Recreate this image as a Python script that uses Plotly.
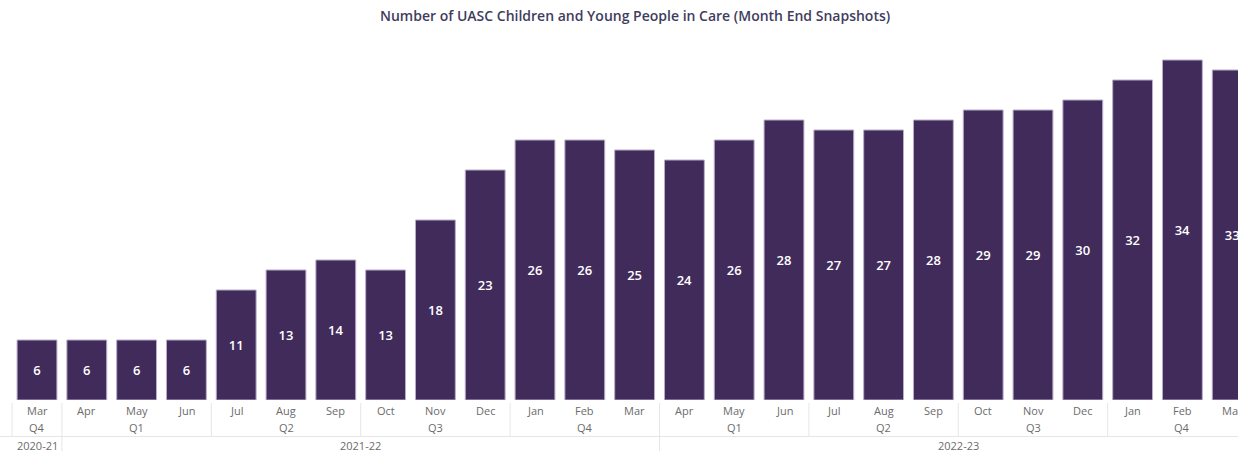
import plotly.graph_objects as go

months = ["Mar", "Apr", "May", "Jun", "Jul", "Aug", "Sep", "Oct", "Nov", "Dec", "Jan", "Feb", "Mar",
          "Apr", "May", "Jun", "Jul", "Aug", "Sep", "Oct", "Nov", "Dec", "Jan", "Feb", "Mar"]
quarters = ["Q4", "Q1", "Q1", "Q1", "Q2", "Q2", "Q2", "Q3", "Q3", "Q3", "Q4", "Q4", "Q4",
            "Q1", "Q1", "Q1", "Q2", "Q2", "Q2", "Q3", "Q3", "Q3", "Q4", "Q4", "Q4"]
years = ["2020-21"] + ["2021-22"] * 12 + ["2022-23"] * 12
values = [6, 6, 6, 6, 11, 13, 14, 13, 18, 23, 26, 26, 25, 24, 26, 28, 27, 27, 28, 29, 29, 30, 32, 34, 33]

W, H = 1238, 451
T, B = 40, 51
plot_h = H - T - B
x_idx = list(range(len(values)))

BAR = "#412B5B"
LABEL = "#6b6b6b"
SEP = "#e6e6e6"
FONT = "Segoe UI, Open Sans, sans-serif"


def py(p):
    # pixel y (from top) -> paper coordinate
    return (H - B - p) / plot_h


fig = go.Figure(go.Bar(
    x=x_idx, y=values, width=0.8,
    marker=dict(color=BAR, line=dict(color="#b8adc9", width=1)),
    text=[str(v) for v in values], textposition="inside", insidetextanchor="middle",
    textangle=0, textfont=dict(color="white", size=13, family=FONT, weight=600),
    hoverinfo="skip",
))

annotations = []
shapes = []

# month labels
for i, m in enumerate(months):
    annotations.append(dict(x=i, y=py(411), xref="x", yref="paper", text=m, showarrow=False,
                            font=dict(size=11, color=LABEL, family=FONT), yanchor="middle"))


def runs(keys):
    out = []
    start = 0
    for i in range(1, len(keys) + 1):
        if i == len(keys) or keys[i] != keys[start]:
            out.append((start, i - 1))
            start = i
    return out


qkeys = list(zip(years, quarters))
for s, e in runs(qkeys):
    annotations.append(dict(x=(s + e) / 2, y=py(427), xref="x", yref="paper", text=quarters[s],
                            showarrow=False, font=dict(size=11, color=LABEL, family=FONT), yanchor="middle"))
    shapes.append(dict(type="line", xref="x", yref="paper", x0=s - 0.5, x1=s - 0.5,
                       y0=py(403), y1=py(437), line=dict(color=SEP, width=1)))

for s, e in runs(years):
    annotations.append(dict(x=(s + e) / 2, y=py(445), xref="x", yref="paper", text=years[s],
                            showarrow=False, font=dict(size=11, color=LABEL, family=FONT), yanchor="middle"))
    if s > 0:
        shapes.append(dict(type="line", xref="x", yref="paper", x0=s - 0.5, x1=s - 0.5,
                           y0=py(437), y1=py(452), line=dict(color=SEP, width=1)))

shapes.append(dict(type="line", xref="paper", yref="paper", x0=0, x1=1, y0=py(436.5), y1=py(436.5),
                   line=dict(color=SEP, width=1)))

annotations.append(dict(x=0.513, y=py(15), xref="paper", yref="paper",
                        text="Number of UASC Children and Young People in Care (Month End Snapshots)",
                        showarrow=False, font=dict(size=14, color="#3f3d5e", family=FONT, weight=600),
                        xanchor="center", yanchor="middle"))

pitch = 49.8
x0 = -37 / pitch
x1 = x0 + W / pitch

fig.update_layout(
    width=W, height=H,
    margin=dict(l=0, r=0, t=T, b=B, pad=0),
    paper_bgcolor="white", plot_bgcolor="white",
    showlegend=False,
    xaxis=dict(range=[x0, x1], showticklabels=False, showgrid=False, zeroline=False, showline=False,
               ticks=""),
    yaxis=dict(range=[0, plot_h / 10], visible=False, showgrid=False, zeroline=False),
    annotations=annotations, shapes=shapes,
    uniformtext=dict(mode="show", minsize=8),
)

fig.write_html("out.html", config={"displayModeBar": False})
